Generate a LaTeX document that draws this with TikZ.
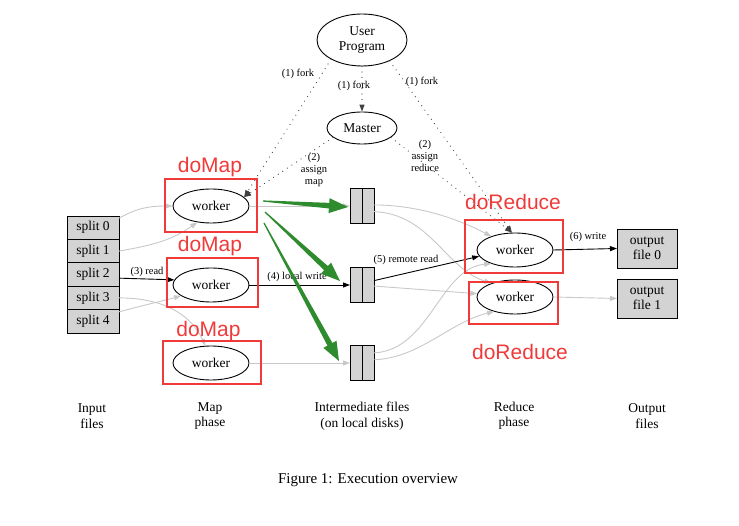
\documentclass[tikz,border=0pt]{standalone}
\usepackage{fontspec}
\setmainfont{Liberation Serif}
\newfontfamily\markfont{Liberation Sans}
\usepackage{tikz}
\usetikzlibrary{
  calc,
  positioning,
  shapes.geometric,
  arrows.meta
}
\definecolor{boxgray}{RGB}{211,211,211}
\definecolor{edgegray}{RGB}{200,200,200}
\definecolor{fatgreen}{RGB}{46,139,46}
\definecolor{markred}{RGB}{240,58,58}

% tapered green arrow from #1 to #2
\newcommand\fatarrow[2]{%
  \path ($(#2)!19pt!(#1)$) coordinate (hb);
  \fill[fatgreen] ($(#1)!0.6pt!90:(#2)$) -- ($(hb)!2.8pt!90:(#2)$)
    -- ($(hb)!7.5pt!90:(#2)$) -- (#2) -- ($(hb)!7.5pt!-90:(#2)$)
    -- ($(hb)!2.8pt!-90:(#2)$) -- ($(#1)!0.6pt!-90:(#2)$) -- cycle;
}

\begin{document}
\begin{tikzpicture}[
  x=1pt,y=-1pt,
  >={Triangle[length=7pt,width=5pt]},
  base/.style={font=\fontsize{13.5}{15.5}\selectfont, inner sep=0pt},
  proc/.style={base, ellipse, draw, line width=0.9pt,
    minimum width=76pt, minimum height=34pt},
  filebox/.style={base, rectangle, draw, line width=0.9pt,
    fill=boxgray, outer sep=0pt},
  splitbox/.style={filebox, minimum width=52pt, minimum height=23.4pt},
  interbox/.style={filebox, minimum width=24pt, minimum height=35pt},
  outbox/.style={filebox, align=center, minimum width=60pt, minimum height=39pt},
  lbl/.style={font=\fontsize{10.5}{12.3}\selectfont, align=center, inner sep=0pt},
  phase/.style={base, align=center},
  flow/.style={->, line width=0.9pt},
  idle/.style={->, line width=0.9pt, edgegray},
  ctrl/.style={->, line width=1.2pt, black!75, line cap=round,
    dash pattern=on 0pt off 5.5pt},
  redbox/.style={draw=markred, line width=2.5pt},
  redlbl/.style={font=\markfont\fontsize{21}{24}\selectfont,
    text=markred, inner sep=0pt, anchor=base}
]
\useasboundingbox (0,0) rectangle (739,526);

% control
\node[proc, minimum width=90pt, minimum height=52pt, align=center]
  (user) at (362,40) {User\\Program};
\node[proc, minimum width=70pt, minimum height=32pt] (master) at (362,128) {Master};

% input files
\node[splitbox] (split0) at (93,227.7) {split 0};
\node[splitbox, below=0pt of split0] (split1) {split 1};
\node[splitbox, below=0pt of split1] (split2) {split 2};
\node[splitbox, below=0pt of split2] (split3) {split 3};
\node[splitbox, below=0pt of split3] (split4) {split 4};

% map workers
\node[proc] (mapw0) at (211,206) {worker};
\node[proc] (mapw1) at (211,285) {worker};
\node[proc] (mapw2) at (211,363) {worker};

% intermediate files
\foreach \i/\y in {0/206,1/285,2/363} {
  \node[interbox] (int\i) at (362,\y) {};
  \draw[line width=0.9pt] (int\i.north) -- (int\i.south);
}

% reduce workers
\node[proc] (redw0) at (515,250) {worker};
\node[proc] (redw1) at (515,297) {worker};

% output files
\node[outbox] (out0) at (647,248.5) {output\\file 0};
\node[outbox] (out1) at (647,298.5) {output\\file 1};

% fork / assign
\draw[ctrl] (user.212) -- (mapw0.15);
\draw[ctrl] (user) -- (master);
\draw[ctrl] (user.-37) -- (redw0.100);
\draw[ctrl] (master.-162) -- (mapw0.15);
\draw[ctrl] (master.-18) -- (redw0.100);
\node[lbl] (fork0) at (298,74) {(1) fork};
\node[lbl] (fork1) at (354,86) {(1) fork};
\node[lbl] (fork2) at (422,82) {(1) fork};
\node[lbl] (assignmap) at (314,170) {(2)\\assign\\map};
\node[lbl] (assignred) at (425,156) {(2)\\assign\\reduce};

% read
\draw[idle] (split0.20) to[out=30,in=180] (mapw0.west);
\draw[idle] (split1.east) to[out=10,in=215] (mapw0.230);
\draw[flow] (split2.-8) -- (mapw1.172);
\draw[idle] (split3.east) to[out=0,in=115] (mapw2.108);
\draw[idle] (split4.20) to[out=15,in=195] (mapw1.200);
\node[lbl] (readlbl) at (147,272) {(3) read};

% local write
\draw[idle] (mapw0.east) -- (int0.west);
\draw[flow] (mapw1.east) -- (int1.west);
\draw[idle] (mapw2.east) -- (int2.west);
\node[lbl] (writelbl) at (297,277) {(4) local write};

% emphasis
\coordinate (g0s) at (263,201);
\coordinate (g0e) at (348,207);
\coordinate (g1s) at (265,212);
\coordinate (g1e) at (340,281);
\coordinate (g2s) at (264,223);
\coordinate (g2e) at (339,361);
\fatarrow{g0s}{g0e}
\fatarrow{g1s}{g1e}
\fatarrow{g2s}{g2e}

% remote read
\draw[idle] (int0.5) .. controls (420,205) and (460,220) .. (redw0.150);
\draw[idle] (int0.-25) .. controls (430,214) and (445,268) .. (redw1.150);
\draw[flow] (int1.20) -- (redw0.190);
\draw[idle] (int1.-5) -- (redw1.175);
\draw[idle] (int2.40) .. controls (430,350) and (440,268) .. (redw0.210);
\draw[idle] (int2.15) .. controls (420,358) and (450,322) .. (redw1.215);
\node[lbl] (remotelbl) at (406,260) {(5) remote read};

% write
\draw[flow] (redw0.east) -- (out0.west);
\draw[idle] (redw1.east) -- (out1.west);
\node[lbl] (outlbl) at (588,237) {(6) write};

% phases
\node[phase] (inphase) at (92,416) {Input\\files};
\node[phase] (mapphase) at (210,416) {Map\\phase};
\node[phase] (intphase) at (362,416) {Intermediate files\\(on local disks)};
\node[phase] (redphase) at (514,416) {Reduce\\phase};
\node[phase] (outphase) at (647,416) {Output\\files};
\node[base, font=\fontsize{15}{17}\selectfont] (caption) at (368,480)
  {Figure 1: Execution overview};

% marks
\draw[redbox] (165,179) rectangle (257,232);
\draw[redbox] (167,258) rectangle (258,307);
\draw[redbox] (163,341) rectangle (261,384);
\draw[redbox] (465,220) rectangle (563,273);
\draw[redbox] (469,282) rectangle (558,324);
\node[redlbl] (domap0) at (210,173) {doMap};
\node[redlbl] (domap1) at (210,252) {doMap};
\node[redlbl] (domap2) at (208.5,337) {doMap};
\node[redlbl] (doreduce0) at (513,210) {doReduce};
\node[redlbl] (doreduce1) at (520,360) {doReduce};

\end{tikzpicture}
\end{document}
